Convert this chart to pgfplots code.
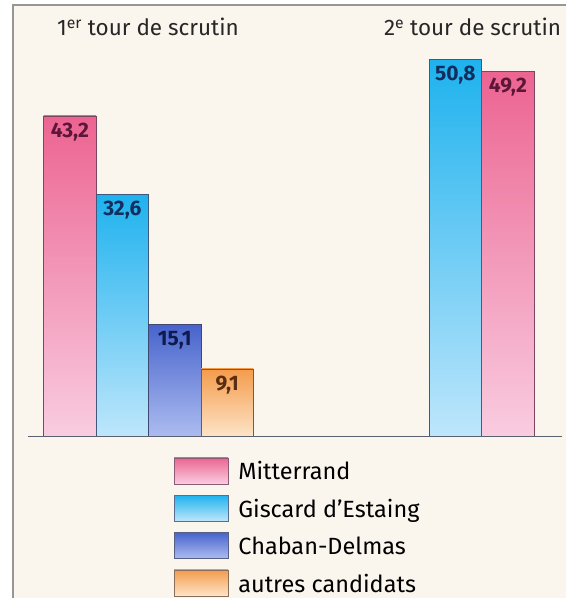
\documentclass[border=0pt]{standalone}
\usepackage{pgfplots}
\pgfplotsset{compat=1.18}
\usepackage{fontspec}
\setmainfont{Fira Sans}
\definecolor{bgc}{RGB}{250,245,237}
\definecolor{frame}{RGB}{150,150,150}
\definecolor{baseln}{RGB}{90,96,112}
\definecolor{pinkT}{RGB}{236,100,145}
\definecolor{pinkB}{RGB}{249,204,224}
\definecolor{cyanT}{RGB}{30,178,238}
\definecolor{cyanB}{RGB}{190,230,251}
\definecolor{blueT}{RGB}{72,100,204}
\definecolor{blueB}{RGB}{172,188,240}
\definecolor{oraT}{RGB}{244,156,76}
\definecolor{oraB}{RGB}{253,228,200}
\definecolor{pinkL}{RGB}{92,22,56}
\definecolor{cyanL}{RGB}{18,46,94}
\definecolor{blueL}{RGB}{15,26,78}
\definecolor{oraL}{RGB}{90,46,16}
\begin{document}
\begin{tikzpicture}
\begin{axis}[
  scale only axis, width=577pt, height=599pt,
  xmin=0, xmax=577, ymin=-21.80, ymax=58.815,
  axis lines=none, ticks=none,
  clip=false,
  bar width=52.5,
  nodes near coords,
  /pgf/number format/use comma,
  /pgf/number format/fixed,
  /pgf/number format/fixed zerofill,
  /pgf/number format/precision=1,
  /pgf/number format/assume math mode=true,
  nodes near coords style={font=\fontsize{21}{21}\selectfont\bfseries, anchor=north, inner sep=0pt, yshift=-6.5pt},
  legend style={at={(rel axis cs:0.3016,0.2354)}, anchor=north west, draw=none, fill=none,
     inner sep=0pt, row sep=11pt, column sep=0pt,
     font=\fontsize{23.5}{23.5}\selectfont,
     nodes={inner sep=0pt, text depth=0pt}},
  legend cell align=left,
]
\fill[white] (rel axis cs:0,0) rectangle (rel axis cs:1,1);
\fill[bgc] (axis cs:13,-21.80) rectangle (axis cs:567,{(437-5)/7.43});
\draw[frame, line width=1.5pt] (axis cs:13,-21.80) -- (axis cs:13,{(437-5)/7.43}) -- (axis cs:567,{(437-5)/7.43});
% premier tour
\addplot[ybar, forget plot, draw=pinkL!80, line width=0.7pt, top color=pinkT, bottom color=pinkB, every node near coord/.append style={text=pinkL}] coordinates {(70,43.2)};
\addplot[ybar, forget plot, draw=cyanL!80, line width=0.7pt, top color=cyanT, bottom color=cyanB, every node near coord/.append style={text=cyanL}] coordinates {(122.5,32.6)};
\addplot[ybar, forget plot, draw=blueL!80, line width=0.7pt, top color=blueT, bottom color=blueB, every node near coord/.append style={text=blueL}] coordinates {(175,15.1)};
\addplot[ybar, forget plot, draw=oraL!80, line width=0.7pt, top color=oraT, bottom color=oraB, every node near coord/.append style={text=oraL}] coordinates {(227.5,9.1)};
% second tour
\addplot[ybar, forget plot, draw=cyanL!80, line width=0.7pt, top color=cyanT, bottom color=cyanB, every node near coord/.append style={text=cyanL}] coordinates {(456,50.8)};
\addplot[ybar, forget plot, draw=pinkL!80, line width=0.7pt, top color=pinkT, bottom color=pinkB, every node near coord/.append style={text=pinkL}] coordinates {(508.5,49.2)};
\draw[baseln, line width=1.5pt] (axis cs:28,0) -- (axis cs:563,0);
\node[anchor=base west, inner sep=0pt, font=\fontsize{22.5}{22.5}\selectfont, text=black!85] at (axis cs:57,53.97) {1\textsuperscript{er} tour de scrutin};
\node[anchor=base east, inner sep=0pt, font=\fontsize{22.5}{22.5}\selectfont, text=black!85] at (axis cs:562,53.97) {2\textsuperscript{e} tour de scrutin};
\addlegendimage{legend image code/.code={\shade[top color=pinkT,bottom color=pinkB,draw=pinkL!70] (0pt,-13pt) rectangle (54pt,13pt);}}
\addlegendentry{\hspace{10pt}Mitterrand}
\addlegendimage{legend image code/.code={\shade[top color=cyanT,bottom color=cyanB,draw=cyanL!70] (0pt,-13pt) rectangle (54pt,13pt);}}
\addlegendentry{\hspace{10pt}Giscard d’Estaing}
\addlegendimage{legend image code/.code={\shade[top color=blueT,bottom color=blueB,draw=blueL!70] (0pt,-13pt) rectangle (54pt,13pt);}}
\addlegendentry{\hspace{10pt}Chaban-Delmas}
\addlegendimage{legend image code/.code={\shade[top color=oraT,bottom color=oraB,draw=oraL!70] (0pt,-13pt) rectangle (54pt,13pt);}}
\addlegendentry{\hspace{10pt}autres candidats}
\end{axis}
\end{tikzpicture}
\end{document}
